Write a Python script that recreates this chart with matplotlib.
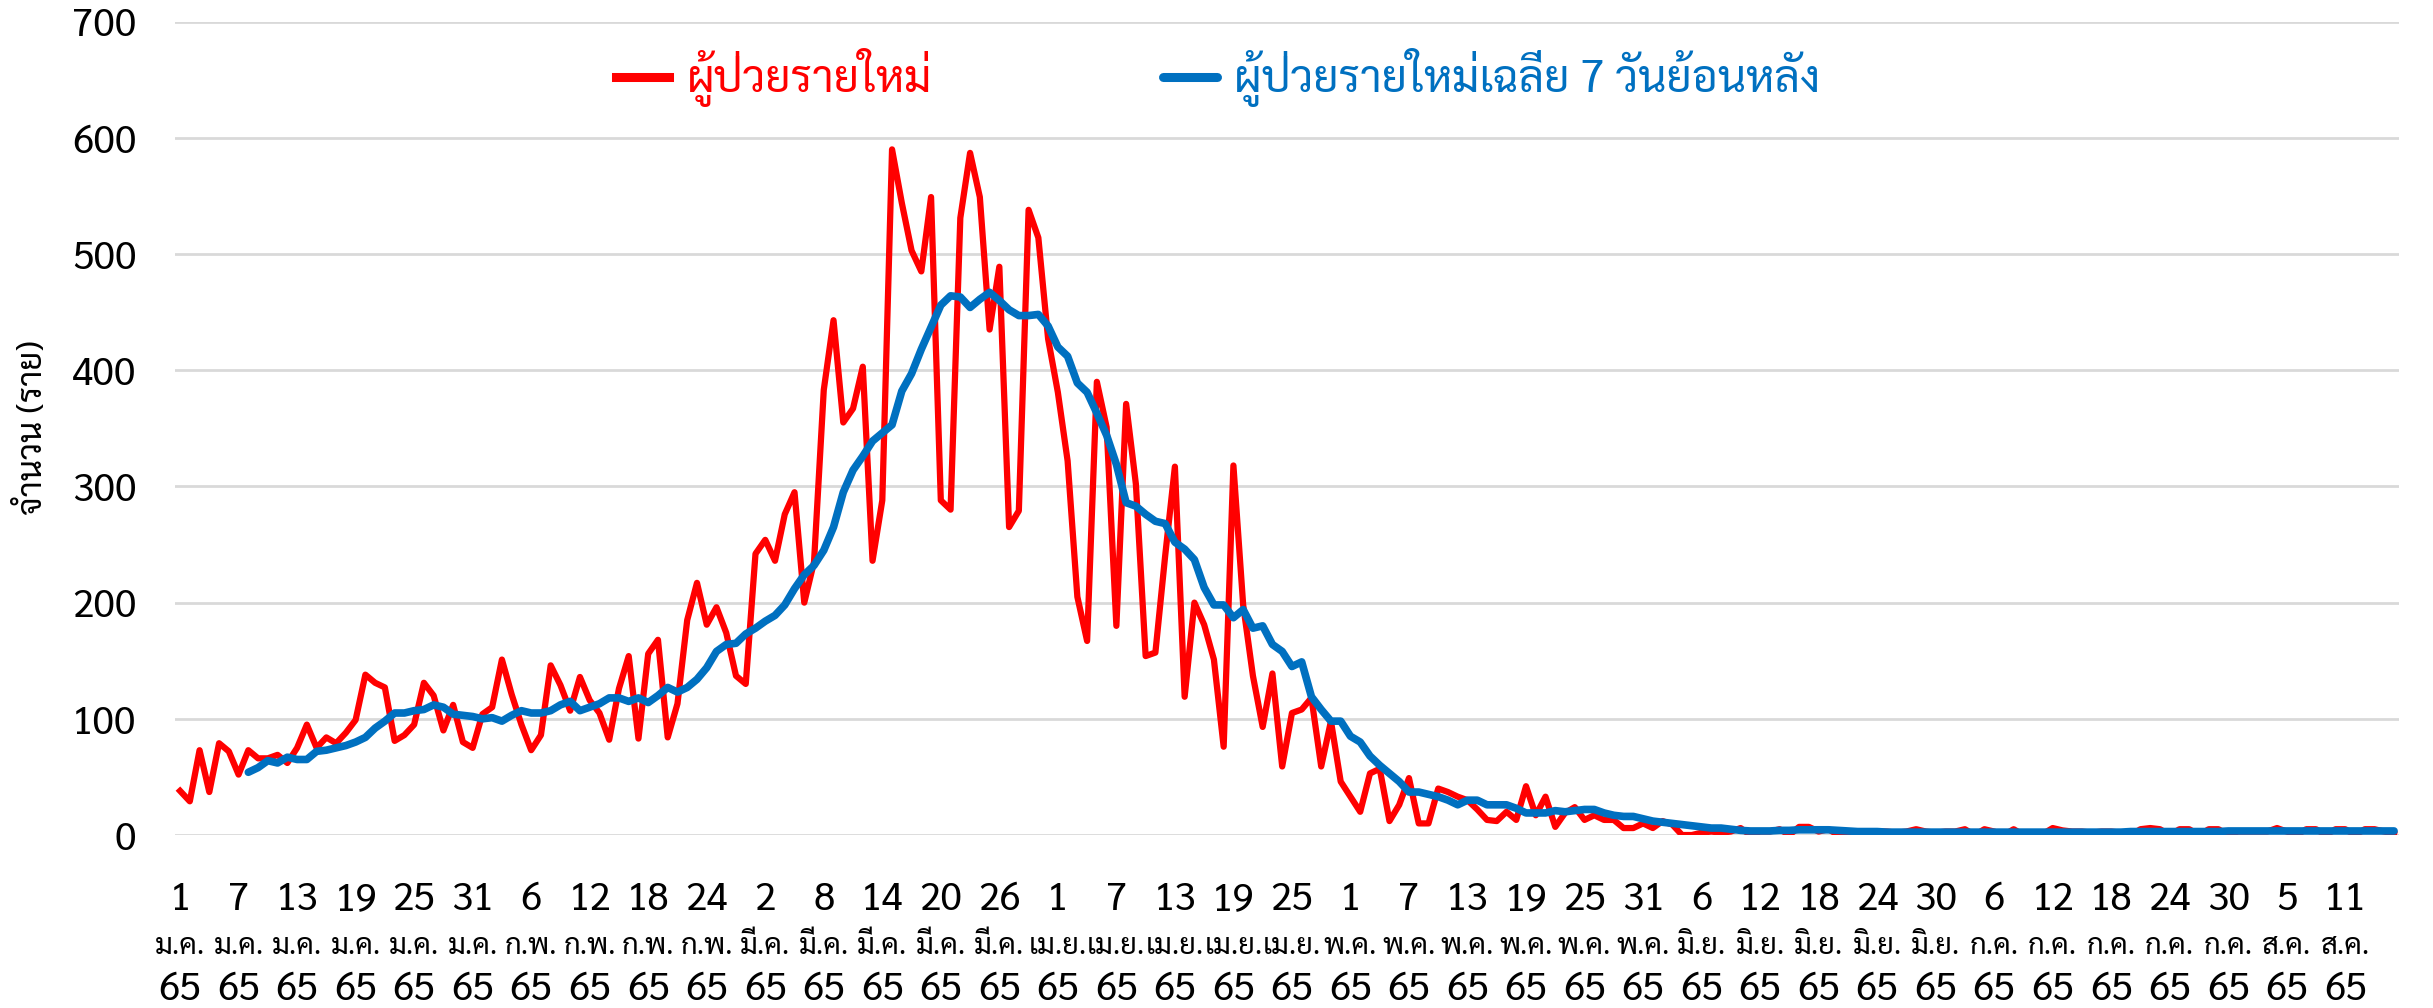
import matplotlib
matplotlib.use('Agg')
import matplotlib.pyplot as plt

# daily new cases, 1 Jan 65 .. 16 Aug 65
new_cases = [38, 29, 73, 37, 79, 72, 52, 73, 66, 66, 69, 62, 75, 95, 75, 84, 79, 88, 99, 138,
             131, 127, 81, 86, 95, 131, 120, 90, 112, 80, 75, 104, 110, 151, 121, 95, 73, 86, 146, 129,
             107, 136, 116, 105, 82, 126, 154, 83, 156, 168, 84, 113, 185, 217, 181, 196, 174, 137, 130, 242,
             254, 236, 276, 295, 200, 235, 383, 443, 355, 367, 403, 236, 288, 590, 544, 503, 485, 549, 288, 280,
             531, 587, 549, 435, 489, 265, 279, 538, 514, 427, 381, 322, 205, 167, 390, 351, 180, 371, 302, 154,
             157, 240, 317, 119, 200, 181, 151, 76, 318, 198, 137, 93, 139, 59, 105, 108, 118, 59, 98, 46,
             33, 20, 53, 57, 12, 26, 49, 10, 10, 40, 37, 33, 30, 22, 13, 12, 20, 13, 42, 17,
             33, 7, 19, 24, 13, 17, 13, 13, 6, 6, 10, 6, 12, 9, 0, 0, 2, 3, 2, 3,
             6, 0, 3, 3, 5, 0, 7, 7, 3, 5, 0, 0, 3, 3, 3, 3, 2, 3, 5, 3,
             2, 3, 3, 5, 0, 5, 3, 0, 5, 0, 0, 1, 6, 4, 3, 3, 2, 3, 3, 2,
             0, 5, 6, 5, 0, 5, 5, 0, 5, 5, 0, 3, 3, 3, 3, 6, 3, 0, 5, 5,
             0, 5, 5, 0, 5, 5, 3, 1]

# 7-day average, starts on 8 Jan 65
avg_start = 7
avg_cases = [54, 58, 64, 62, 67, 65, 65, 72, 73, 75, 77, 80, 84, 92, 98, 105, 105, 107, 108, 112,
             110, 104, 103, 102, 100, 101, 98, 103, 107, 105, 105, 107, 112, 115, 107, 110, 113, 118, 118, 115,
             118, 114, 120, 127, 123, 127, 134, 144, 158, 164, 165, 173, 178, 184, 189, 198, 212, 224, 232, 245,
             265, 295, 314, 326, 339, 346, 353, 382, 397, 418, 437, 456, 464, 463, 454, 461, 467, 460, 452, 447,
             447, 448, 438, 420, 412, 389, 381, 363, 344, 319, 286, 283, 276, 270, 268, 252, 246, 237, 213, 198,
             198, 187, 194, 178, 180, 164, 158, 145, 149, 119, 108, 98, 98, 85, 80, 68, 60, 53, 46, 37,
             37, 35, 33, 30, 26, 30, 30, 26, 26, 26, 23, 19, 19, 19, 21, 20, 21, 22, 22, 19,
             17, 16, 16, 14, 12, 11, 10, 9, 8, 7, 6, 6, 5, 4, 3.5, 3.5, 3.5, 4, 4, 4.5,
             4.5, 4.5, 4.5, 4, 3.5, 3, 3, 3, 2.5, 2.5, 2.5, 2.5, 2.5, 2.5, 2.5, 2.5, 2.5, 2.5, 2.5, 2.5,
             2.5, 2.5, 2.5, 2.5, 2.5, 2.5, 2.5, 2.5, 2.5, 2.5, 2.5, 2.5, 2.5, 3, 3, 3, 3, 3, 3, 3,
             3, 3, 3, 3.5, 3.5, 3.5, 3.5, 3.5, 3.5, 3.5, 3.5, 3.5, 3.5, 3.5, 3.5, 3.5, 3.5, 3.5, 3.5, 3.5,
             3.5]

tick_days = [1, 7, 13, 19, 25, 31, 6, 12, 18, 24, 2, 8, 14, 20, 26, 1, 7, 13, 19, 25,
             1, 7, 13, 19, 25, 31, 6, 12, 18, 24, 30, 6, 12, 18, 24, 30, 5, 11]
tick_months = ['ม.ค.'] * 6 + ['ก.พ.'] * 4 + ['มี.ค.'] * 5 + ['เม.ย.'] * 5 + ['พ.ค.'] * 6 + \
              ['มิ.ย.'] * 5 + ['ก.ค.'] * 5 + ['ส.ค.'] * 2
tick_year = '65'
label_new = 'ผู้ป่วยรายใหม่'
label_avg = 'ผู้ป่วยรายใหม่เฉลี่ย 7 วันย้อนหลัง'

plt.rcParams['font.family'] = ['Sarabun', 'Noto Sans Thai Looped', 'DejaVu Sans']

fig = plt.figure(figsize=(24.33, 10.08), dpi=100)
ax = fig.add_axes([0.072, 0.1716, 0.914, 0.807])

days = list(range(len(new_cases)))
avg_days = list(range(avg_start, avg_start + len(avg_cases)))
ax.plot(days, new_cases, color='#FF0000', lw=4.5, solid_joinstyle='round', label=label_new, zorder=3)
ax.plot(avg_days, avg_cases, color='#0070C0', lw=5.5, solid_capstyle='round', label=label_avg, zorder=4)

ax.set_xlim(-0.5, len(new_cases) - 0.5)
ax.set_ylim(0, 700)
ax.set_yticks(range(0, 701, 100))
ax.yaxis.grid(True, color='#D9D9D9', lw=2)
ax.set_axisbelow(True)
for s in ax.spines.values():
    s.set_visible(False)

# x labels in three rows: day / month / year
tick_pos = list(range(0, 6 * len(tick_days), 6))
ax.set_xticks(tick_pos)
ax.set_xticklabels([])
ax.tick_params(axis='x', length=0)
xt = ax.get_xaxis_transform()
for p, d, m in zip(tick_pos, tick_days, tick_months):
    ax.text(p, -0.080, str(d), transform=xt, ha='center', va='center', fontsize=28)
    ax.text(p, -0.137, m, transform=xt, ha='center', va='center', fontsize=21)
    ax.text(p, -0.1905, tick_year, transform=xt, ha='center', va='center', fontsize=28)

ax.tick_params(axis='y', length=0, pad=28, labelsize=28)
fig.text(0.0135, 0.576, 'จำนวน (ราย)', rotation=90, ha='center', va='center', fontsize=24)

leg = ax.legend(loc='center', bbox_to_anchor=(0.469, 0.931), ncol=2, frameon=False,
                fontsize=32, handlelength=1.2, handletextpad=0.4, columnspacing=5.2,
                labelcolor='linecolor')
for h in leg.get_lines():
    h.set_linewidth(6.5)

fig.savefig('out.png', dpi=100)
